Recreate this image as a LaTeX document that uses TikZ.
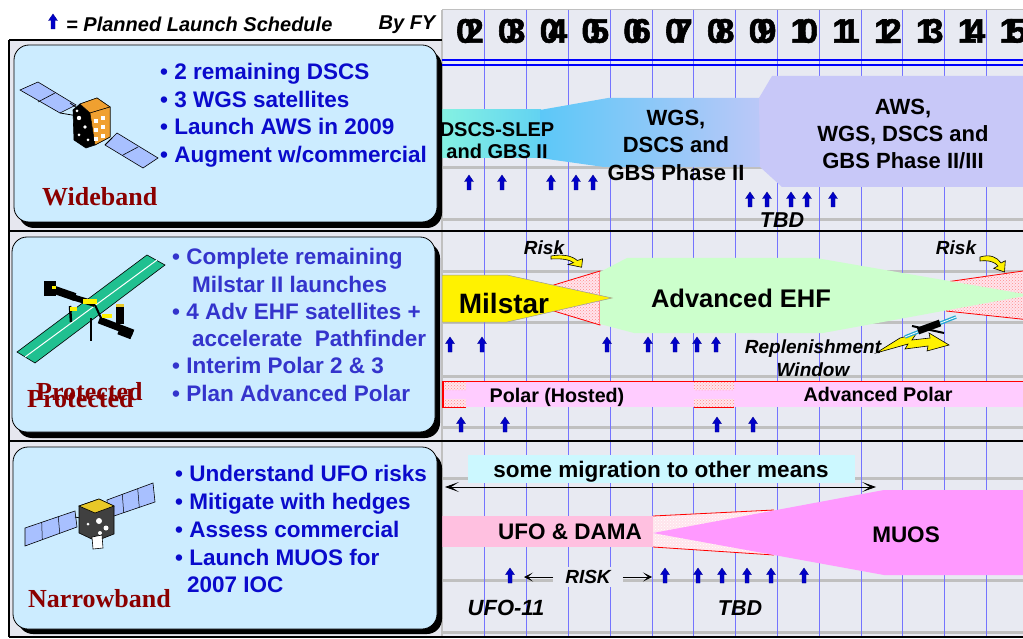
\documentclass[tikz,border=0pt]{standalone}
\usepackage{fontspec}
\setmainfont{Liberation Sans}
\newfontfamily\serifb{Liberation Serif}
\newfontfamily\yrfont[FakeBold=1.6]{Liberation Sans}
\usetikzlibrary{arrows.meta,patterns}
\definecolor{chartbg}{HTML}{E8EAF2}
\definecolor{panelbg}{HTML}{E6E7EF}
\definecolor{boxblue}{HTML}{CCECFF}
\definecolor{gridgray}{HTML}{C0C0C0}
\definecolor{gridblue}{HTML}{7474FF}
\definecolor{launchblue}{HTML}{0000C8}
\definecolor{textblue}{HTML}{0A0ACC}
\definecolor{textbluetwo}{HTML}{3434CC}
\definecolor{darkred}{HTML}{8B0000}
\definecolor{dscsA}{HTML}{84F2E2}
\definecolor{dscsB}{HTML}{62D2F2}
\definecolor{wgsA}{HTML}{5CC8F8}
\definecolor{awscol}{HTML}{C8C8F8}
\definecolor{ehfgreen}{HTML}{CCFFCC}
\definecolor{polarpink}{HTML}{FFCCFF}
\definecolor{riskpink}{HTML}{FFE4EC}
\definecolor{ufopink}{HTML}{FFC0E0}
\definecolor{muoscol}{HTML}{FF99FF}
\definecolor{migcyan}{HTML}{CCF8FF}
\definecolor{panelblue}{HTML}{A8C0FF}
\definecolor{protgreen}{HTML}{20C090}
\definecolor{satorange}{HTML}{F0A030}
\definecolor{satgold}{HTML}{E8C828}
\tikzset{
  chartlbl/.style={align=center, inner sep=0pt, text=black},
  btext/.style={anchor=base west, inner sep=0pt, font=\bfseries\fontsize{22.5}{27}\selectfont},
  catlbl/.style={anchor=base west, inner sep=0pt, text=darkred, font=\serifb\bfseries\fontsize{26}{30}\selectfont},
  itlbl/.style={font=\bfseries\itshape\fontsize{19}{23}\selectfont, align=center, inner sep=0pt},
  yrlbl/.style={font=\yrfont\bfseries\fontsize{34}{34}\selectfont, inner sep=0pt},
  boxshadow/.style={fill=black, rounded corners=15pt},
  catbox/.style={fill=boxblue, draw=black, line width=0.8pt, rounded corners=15pt},
  riskfill/.style={pattern=crosshatch dots, pattern color=red!45},
  launch/.pic={\filldraw[fill=launchblue, draw=launchblue!70!black, line width=0.3pt]
     (0,-8) -- (4.5,-1.5) -- (2,-1.5) -- (2,7) -- (-2,7) -- (-2,-1.5) -- (-4.5,-1.5) -- cycle;},
  riskarrow/.pic={\filldraw[fill=yellow, draw=black, line width=0.6pt]
     (0,0) .. controls (10,-3) and (17,0) .. (21,6) -- (25.3,3.7) -- (24.5,15) -- (13.7,11.3) -- (18,9)
     .. controls (15,5) and (9,3) .. (0,4) -- cycle;}
}
\begin{document}
\begin{tikzpicture}[x=1pt,y=-1pt]
\useasboundingbox (0,0) rectangle (1023,639);
\fill[white] (0,0) rectangle (1023,639);
% backgrounds
\fill[panelbg] (9,40) rectangle (442,637);
\fill[chartbg] (442,10) rectangle (1023,637);
\draw[gridgray, line width=1pt] (442,10) -- (1023,10);
\foreach \yy in {168,220,272,322,376,427,478,580,632}
  \draw[gridgray, line width=3pt] (442,\yy) -- (1023,\yy);
\foreach \k in {1,...,13}
  \draw[gridblue, line width=0.9pt] ({443+41.8*\k},10) -- ({443+41.8*\k},637);
\draw[gridgray, line width=2pt] (442,10) -- (442,637);
\draw[black, line width=1.2pt] (9,40) -- (442,40);
\draw[black, line width=1.2pt] (9,40) -- (9,637);
\foreach \yy in {231,441,637} \draw[black, line width=1.2pt] (9,\yy) -- (1023,\yy);
\draw[blue, line width=2pt] (442,60.5) -- (1023,60.5);
\draw[blue, line width=2pt] (442,65.5) -- (1023,65.5);

% header
\pic at (53,22) {launch};
\node[anchor=west, inner sep=0pt, font=\bfseries\itshape\fontsize{20}{24}\selectfont] (legend) at (66,24) {= Planned Launch Schedule};
\node[inner sep=0pt, font=\bfseries\itshape\fontsize{20}{24}\selectfont] (byfy) at (407,25) {By FY};
\foreach \a/\b [count=\k from 0] in {0/2,0/3,0/4,0/5,0/6,0/7,0/8,0/9,1/0,1/1,1/2,1/3,1/4,1/5}
  \node[yrlbl] (yr\k) at ({443+41.8*(\k+0.5)+6},31) {\a\kern-0.3em\b};

% ---------------- chart shapes ----------------
\begin{scope}
\clip (442,0) rectangle (1023,639);
% wideband
\shade[left color=dscsA, right color=dscsB] (442,110) rectangle (541,158);
\shade[left color=wgsA, right color=awscol] (540,110) -- (608,98) -- (790,98) -- (790,167) -- (604,167) -- (540,158) -- cycle;
\fill[awscol] (772,76) -- (1030,76) -- (1030,187) -- (782,187) -- (760,167) -- (759,98) -- cycle;
% protected
\fill[riskpink] (946,282) -- (1030,270) -- (1030,320) -- (946,311) -- cycle;
\fill[riskfill] (946,282) -- (1030,270) -- (1030,320) -- (946,311) -- cycle;
\draw[red, line width=0.8pt] (946,282) -- (1030,270);
\draw[red, line width=0.8pt] (946,311) -- (1030,320);
\fill[riskpink] (511,298) -- (600,271) -- (600,325) -- cycle;
\fill[riskfill] (511,298) -- (600,271) -- (600,325) -- cycle;
\draw[red, line width=0.8pt] (511,298) -- (600,271) -- (600,325) -- cycle;
\fill[ehfgreen] (600,272) -- (627,258) -- (816,258) -- (1030,295) -- (823,333) -- (634,333) -- (600,324) -- cycle;
\filldraw[fill=yellow, draw=black!40, line width=0.5pt] (442,275) -- (507,275) -- (612,298) -- (507,322) -- (442,322) -- cycle;
% polar bar
\fill[polarpink] (442,381) rectangle (1030,407);
\foreach \xa/\xb in {442/466,694/734}{
  \fill[riskpink] (\xa,382) rectangle (\xb,390);
  \fill[riskfill] (\xa,382) rectangle (\xb,390);
  \fill[riskpink] (\xa,399) rectangle (\xb,407);
  \fill[riskfill] (\xa,399) rectangle (\xb,407);
  \draw[red, line width=1pt] (\xa,407) -- (\xb,407);
}
\draw[red, line width=1pt] (442,381) -- (1030,381);
\draw[red, line width=1.5pt] (443,381) -- (443,407);
% narrowband
\fill[migcyan] (468,455) rectangle (855,483);
\fill[ufopink] (442,516) rectangle (654,547);
\fill[riskpink] (653,516) -- (774,510) -- (774,555) -- (653,547) -- cycle;
\fill[pattern=crosshatch dots, pattern color=white] (653,516) -- (774,510) -- (774,555) -- (653,547) -- cycle;
\draw[red, line width=0.8pt] (653,516) -- (774,510);
\draw[red, line width=0.8pt] (653,547) -- (774,555);
\fill[muoscol] (653,533) -- (884,490) -- (1030,490) -- (1030,575) -- (884,575) -- cycle;
\end{scope}

% risk arrows, replenishment bolt, small satellite
\pic[xscale=1.25, yscale=0.75] at (551,256) {riskarrow};
\pic at (980,257) {riskarrow};
\filldraw[fill=yellow, draw=black, line width=0.6pt] (876,353) -- (900,338) -- (916,334) -- (912,340) -- (930,338) -- (929,333) -- (949,345) -- (927,351) -- (928,346) -- (905,349) -- (908,344) -- cycle;
\draw[cyan!60!protgreen, line width=3.5pt] (905,337) -- (956,317);
\draw[white, line width=0.8pt] (905,337) -- (956,317);
\draw[black, line width=7pt] (918,331) -- (940,323);
\draw[black, line width=2pt] (912,326) -- (944,333);

% chart labels
\node[chartlbl, font=\bfseries\fontsize{20}{22}\selectfont] (dscs) at (497,141) {DSCS-SLEP\\and GBS II};
\node[chartlbl, font=\bfseries\fontsize{22}{27.5}\selectfont] (wgs) at (676,145) {WGS,\\DSCS and\\GBS Phase II};
\node[chartlbl, font=\bfseries\fontsize{22}{27}\selectfont] (aws) at (903,134) {AWS,\\WGS, DSCS and\\GBS Phase II/III};
\node[itlbl, font=\bfseries\itshape\fontsize{21.5}{24}\selectfont] (tbdw) at (782,220) {TBD};
\node[chartlbl, font=\bfseries\fontsize{28}{30}\selectfont] (milstar) at (504,303) {Milstar};
\node[chartlbl, font=\bfseries\fontsize{25.5}{30}\selectfont] (ehf) at (741,298) {Advanced EHF};
\node[itlbl] (riskl) at (544,248) {Risk};
\node[itlbl] (riskr) at (956,248) {Risk};
\node[itlbl] (repl) at (813,358) {Replenishment\\Window};
\node[chartlbl, font=\bfseries\fontsize{19.7}{22}\selectfont] (polh) at (557,397) {Polar (Hosted)};
\node[chartlbl, font=\bfseries\fontsize{19.7}{22}\selectfont] (apol) at (878,394) {Advanced Polar};
\node[chartlbl, font=\bfseries\fontsize{22.5}{26}\selectfont] (mig) at (661,472) {some migration to other means};
\coordinate (migl) at (445,487);
\coordinate (migr) at (876,487);
\draw[{Stealth[length=14pt,width=10pt,inset=8pt]}-{Stealth[length=14pt,width=10pt,inset=8pt]}, line width=0.8pt] (migl) -- (migr);
\node[chartlbl, font=\bfseries\fontsize{22.5}{26}\selectfont] (ufo) at (570,532) {UFO \& DAMA};
\node[chartlbl, font=\bfseries\fontsize{22.5}{26}\selectfont] (muos) at (906,535) {MUOS};
\node[itlbl, fill=chartbg, inner xsep=12pt, inner ysep=3pt] (riskn) at (588,577) {RISK};
\coordinate (riskla) at (524,577);
\coordinate (riskra) at (652,577);
\draw[-{Stealth[length=9pt,width=9pt,inset=5pt]}, line width=0.8pt] (riskn.west) -- (riskla);
\draw[-{Stealth[length=9pt,width=9pt,inset=5pt]}, line width=0.8pt] (riskn.east) -- (riskra);
\node[itlbl, font=\bfseries\itshape\fontsize{22}{24}\selectfont] (ufo11) at (506,608) {UFO-11};
\node[itlbl, font=\bfseries\itshape\fontsize{21.5}{24}\selectfont] (tbdn) at (740,608) {TBD};

% launch arrows
\foreach \xx in {469,502,551,576,593} \pic at (\xx,183) {launch};
\foreach \xx in {750,767,791,807,833} \pic at (\xx,200) {launch};
\foreach \xx in {450,482,607,648,675,697,716} \pic at (\xx,345) {launch};
\foreach \xx in {461,505,717,753} \pic at (\xx,425) {launch};
\foreach \xx in {510,665,698,722,747,771,804} \pic at (\xx,576) {launch};

% ---------------- left boxes ----------------
\fill[boxshadow] (19,51) rectangle (442,228);
\draw[catbox] (14,45) rectangle (437,222);
\fill[boxshadow] (17,243) rectangle (440,438);
\draw[catbox] (12,237) rectangle (435,432);
\fill[boxshadow] (18,453) rectangle (442,634);
\draw[catbox] (13,447) rectangle (437,629);

% wideband satellite
\filldraw[fill=panelblue, draw=black, line width=0.6pt] (20,90) -- (38,82) -- (76,105) -- (60,113) -- cycle;
\draw[black, line width=0.6pt] (38,102) -- (55,93);
\filldraw[fill=panelblue, draw=black, line width=0.6pt] (105,145) -- (117,133) -- (158,158) -- (143,168) -- cycle;
\draw[black, line width=0.6pt] (123,155) -- (138,147);
\draw[black, line width=0.8pt] (60,113) -- (78,116);
\draw[black, line width=0.8pt] (70,103) -- (80,110);
\draw[black, line width=0.8pt] (105,145) -- (112,138);
\filldraw[fill=black, draw=black, line width=0.6pt] (73,110) -- (80,104) -- (97,98) -- (110,107) -- (110,137) -- (95,145) -- (86,148) -- (74,140) -- cycle;
\filldraw[fill=satorange, draw=black, line width=0.5pt] (80,104) -- (97,98) -- (110,107) -- (90,113) -- cycle;
\filldraw[fill=satorange, draw=black, line width=0.5pt] (90,113) -- (110,107) -- (110,137) -- (95,145) -- cycle;
\foreach \px/\py in {94,118/, 101,116/}{}
\foreach \px/\py in {94/119,101/116,94/128,101/125,94/137,101/134}
  \fill[white] (\px,\py) rectangle ++(4,4);
\fill[white] (79,118) circle (2.2);
\fill[white] (85,127) circle (1.8);
\fill[white] (79,135) circle (1.5);
\fill[white] (88,140) circle (1.5);
\fill[white] (77,111) circle (1.5);

% protected satellite
\filldraw[fill=protgreen, draw=black, line width=0.6pt] (17,352) -- (147,255) -- (165,265) -- (35,363) -- cycle;
\draw[white, line width=1pt] (25,357) -- (157,260);
\draw[black, line width=8pt] (49,288) -- (75,297);
\draw[black, line width=6pt] (72,297) -- (95,304);
\fill[black] (44,281) rectangle (56,296);
\draw[black, line width=2pt] (95,305) -- (101,318);
\draw[black, line width=7pt] (99,320) -- (133,333);
\draw[black, line width=9pt] (119,330) -- (132,335);
\fill[black] (116,306) rectangle (124,324);
\fill[satgold] (116,304) rectangle (124,307);
\draw[black, line width=2.5pt] (91,318) -- (91,341);
\draw[black, line width=2.5pt] (70,306) -- (71,322);
\fill[yellow] (83,299) rectangle (97,304);
\fill[yellow] (102,314) rectangle (112,318);
\fill[yellow] (70,307) rectangle (77,311);
\fill[yellow] (52,286) rectangle (56,289);

% narrowband satellite
\filldraw[fill=panelblue, draw=black, line width=0.6pt] (25,528) -- (75,511) -- (77,527) -- (25,546) -- cycle;
\draw[black, line width=0.5pt] (41.7,522.3) -- (42.3,539.7);
\draw[black, line width=0.5pt] (58.3,516.7) -- (59.7,533.3);
\filldraw[fill=panelblue, draw=black, line width=0.6pt] (107,500) -- (153,483) -- (155,502) -- (108,518) -- cycle;
\draw[black, line width=0.5pt] (122.3,494.3) -- (123.7,512.7);
\draw[black, line width=0.5pt] (137.7,488.7) -- (139.3,507.3);
\draw[black, line width=0.8pt] (75,517) -- (80,518);
\draw[black, line width=0.8pt] (107,509) -- (114,511);
\filldraw[fill=black!75, draw=black, line width=0.6pt] (79,506) -- (99,499) -- (114,506) -- (114,534) -- (96,541) -- (79,533) -- cycle;
\filldraw[fill=satgold, draw=black, line width=0.6pt] (79,506) -- (99,499) -- (114,506) -- (95,513) -- cycle;
\fill[white] (99,521) circle (3);
\fill[white] (106,528) circle (2.5);
\fill[white] (100,533) circle (2);
\fill[white] (88,524) circle (1.5);
\filldraw[fill=white, draw=black, line width=0.6pt] (92,537) -- (102,535) -- (103,548) -- (93,549) -- cycle;

% box texts
\node[btext, text=textblue] (w1) at (160,80) {• 2 remaining DSCS};
\node[btext, text=textblue] (w2) at (160,108) {• 3 WGS satellites};
\node[btext, text=textblue] (w3) at (160,135) {• Launch AWS in 2009};
\node[btext, text=textblue] (w4) at (160,163) {• Augment w/commercial};
\node[catlbl] (wide) at (42,206) {Wideband};

\node[btext, text=textbluetwo] (p1) at (172,265) {• Complete remaining};
\node[btext, text=textbluetwo] (p2) at (192,292) {Milstar II launches};
\node[btext, text=textbluetwo] (p3) at (172,319) {• 4 Adv EHF satellites +};
\node[btext, text=textbluetwo] (p4) at (192,346) {accelerate\ \ Pathfinder};
\node[btext, text=textbluetwo] (p5) at (172,373) {• Interim Polar 2 \& 3};
\node[btext, text=textbluetwo] (p6) at (172,401) {• Plan Advanced Polar};
\node[catlbl] (prot1) at (36,400) {Protected};
\node[catlbl] (prot2) at (27,407) {Protected};

\node[btext, text=textblue] (n1) at (175,481) {• Understand UFO risks};
\node[btext, text=textblue] (n2) at (175,509) {• Mitigate with hedges};
\node[btext, text=textblue] (n3) at (175,537) {• Assess commercial};
\node[btext, text=textblue] (n4) at (175,565) {• Launch MUOS for};
\node[btext, text=textblue] (n5) at (187,592) {2007 IOC};
\node[catlbl] (narrow) at (28,607) {Narrowband};
\end{tikzpicture}
\end{document}
